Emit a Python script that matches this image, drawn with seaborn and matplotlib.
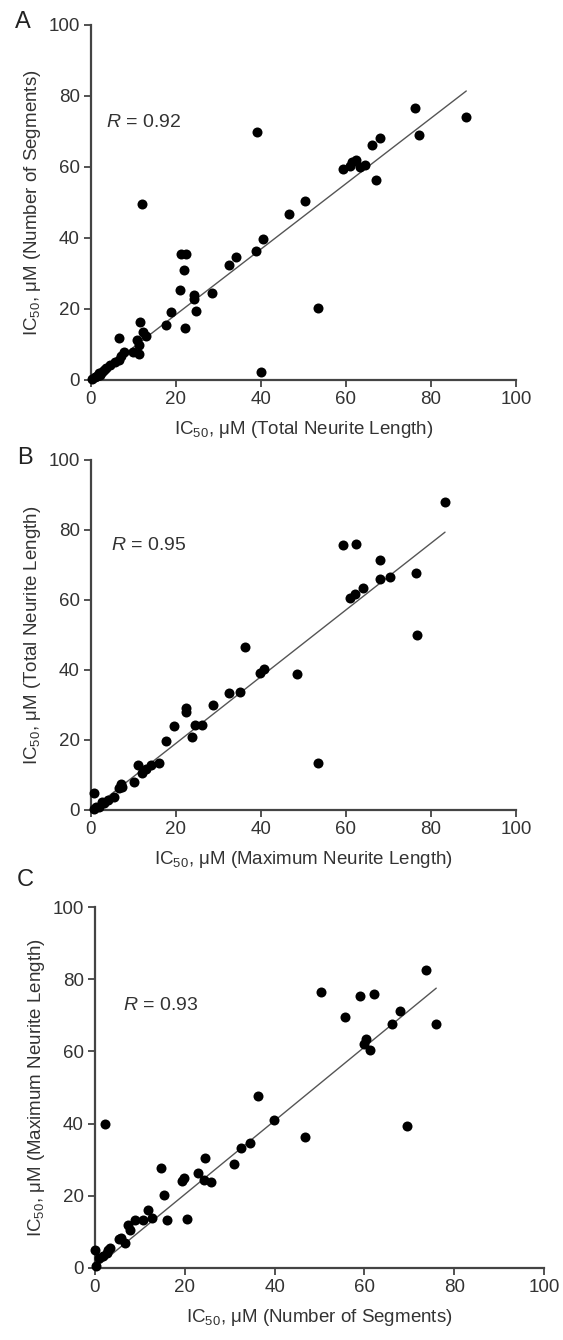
import numpy as np
import pandas as pd
import matplotlib
matplotlib.use('Agg')
import matplotlib.pyplot as plt
import seaborn as sns

# panel A: total neurite length (x) vs number of segments (y)
a_total = [39.0, 76.2, 88.3, 77.1, 66.0, 68.0, 61.5, 62.3, 63.2, 64.5, 61.0, 59.2, 67.0, 50.4, 46.7, 11.9,
           40.5, 38.8, 34.2, 32.5, 21.2, 22.4, 21.8, 21.0, 18.9, 28.4, 24.2, 24.3, 24.8, 22.1, 17.6, 11.5,
           12.3, 12.9, 10.8, 11.2, 9.9, 11.2, 6.7, 7.8, 7.0, 6.5, 5.7, 4.4, 3.6, 2.7, 1.9, 1.0, 0.3,
           53.4, 39.9, 3.0, 2.2, 1.4]
a_segments = [69.9, 76.5, 74.2, 69.0, 66.3, 68.3, 61.5, 62.0, 60.0, 60.5, 60.2, 59.5, 56.3, 50.5, 46.8, 49.5,
              39.6, 36.2, 34.7, 32.4, 35.4, 35.4, 31.0, 25.4, 19.2, 24.4, 23.9, 22.7, 19.5, 14.6, 15.4, 16.2,
              13.6, 12.4, 11.3, 9.9, 8.0, 7.3, 11.7, 8.0, 6.8, 5.6, 5.2, 4.2, 3.3, 2.3, 1.9, 0.9, 0.3,
              20.2, 2.2, 2.8, 1.5, 1.2]

# panel B: maximum neurite length (x) vs total neurite length (y)
b_maximum = [83.3, 59.4, 62.4, 68.1, 68.0, 70.3, 60.9, 62.2, 63.9, 76.5, 76.8, 36.3, 48.4, 40.8, 39.7,
             32.5, 35.0, 28.6, 22.3, 22.4, 19.5, 17.6, 24.4, 26.1, 23.8, 15.9, 14.2, 12.9, 12.1, 11.0,
             10.2, 7.0, 7.4, 6.5, 5.3, 4.0, 3.1, 1.9, 0.6, 0.8, 53.5, 2.5, 1.2]
b_total = [88.0, 75.6, 76.0, 71.4, 66.0, 66.7, 60.7, 61.7, 63.4, 67.7, 50.1, 46.5, 38.8, 40.2, 39.2,
           33.3, 33.7, 30.1, 29.1, 27.9, 23.9, 19.6, 24.4, 24.4, 21.0, 13.4, 12.9, 11.7, 10.5, 12.9,
           8.1, 7.5, 6.7, 6.2, 3.8, 2.9, 1.9, 1.0, 0.2, 4.8, 13.4, 2.2, 0.8]

# panel C: number of segments (x) vs maximum neurite length (y)
c_segments = [73.8, 50.4, 59.1, 62.1, 55.7, 67.9, 66.1, 76.0, 60.3, 59.9, 61.3, 36.2, 39.9, 2.2, 69.5,
              46.7, 34.6, 32.6, 31.0, 24.6, 22.9, 24.2, 25.8, 19.4, 19.8, 14.6, 15.4, 16.0, 20.4, 11.8,
              12.6, 10.6, 9.0, 7.4, 7.8, 5.8, 6.6, 5.4, 3.4, 2.6, 1.8, 1.0, 0.2, 0.0, 3.0]
c_maximum = [82.6, 76.4, 75.4, 75.9, 69.6, 71.2, 67.5, 67.5, 63.3, 62.0, 60.5, 47.7, 40.9, 40.0, 39.3,
             36.2, 34.6, 33.2, 28.9, 30.4, 26.2, 24.5, 23.8, 24.0, 25.0, 27.6, 20.1, 13.2, 13.6, 16.2,
             13.9, 13.4, 13.2, 12.0, 10.6, 8.3, 6.9, 7.9, 5.6, 4.2, 3.2, 2.8, 0.5, 5.1, 5.1]

# fitted lines through the origin, slopes
fit_slopes = [0.922, 0.953, 1.02]
r_values = ['0.92', '0.95', '0.93']
ticks = [0, 20, 40, 60, 80, 100]

sns.set_theme(style='ticks')
plt.rcParams['font.family'] = ['Liberation Sans', 'DejaVu Sans']
plt.rcParams['mathtext.fontset'] = 'custom'
plt.rcParams['mathtext.rm'] = 'Liberation Sans'
plt.rcParams['mathtext.it'] = 'Liberation Sans:italic'

fig = plt.figure(figsize=(5.63, 13.4), dpi=100)

panels = [
    ('A', a_total, a_segments, 'Total Neurite Length', 'Number of Segments',
     [91 / 563, 1 - 380 / 1340, 425 / 563, 355 / 1340], (3.6, 72.5), (15, 22)),
    ('B', b_maximum, b_total, 'Maximum Neurite Length', 'Total Neurite Length',
     [91 / 563, 1 - 810 / 1340, 425 / 563, 350 / 1340], (4.8, 75.5), (17, 458)),
    ('C', c_segments, c_maximum, 'Number of Segments', 'Maximum Neurite Length',
     [95 / 563, 1 - 1268 / 1340, 449 / 563, 361 / 1340], (6.2, 72.6), (17, 880)),
]

for i, (letter, xs, ys, xname, yname, rect, rpos, lpos) in enumerate(panels):
    ax = fig.add_axes(rect)
    df = pd.DataFrame({'x': xs, 'y': ys})
    fit = pd.DataFrame({'x': [0, max(xs)]})
    fit['y'] = fit['x'] * fit_slopes[i]
    sns.lineplot(data=fit, x='x', y='y', ax=ax, color='#555555', linewidth=1.0)
    sns.scatterplot(data=df, x='x', y='y', ax=ax, s=52, color='black', linewidth=0, clip_on=False, zorder=3)
    ax.set_xlim(0, 100)
    ax.set_ylim(0, 100)
    ax.set_xticks(ticks)
    ax.set_yticks(ticks)
    ax.tick_params(labelsize=13.5, length=5, width=1.3, color='#444444', labelcolor='#333333', pad=3)
    sns.despine(ax=ax)
    for side in ['left', 'bottom']:
        ax.spines[side].set_linewidth(1.6)
        ax.spines[side].set_color('#444444')
    ax.set_xlabel(r'IC$_{50}$, μM (' + xname + ')', fontsize=13.5, color='#333333', labelpad=8)
    ax.set_ylabel(r'IC$_{50}$, μM (' + yname + ')', fontsize=13.5, color='#333333', labelpad=4)
    ax.text(rpos[0], rpos[1], r'$R$ = ' + r_values[i], fontsize=14, color='#333333',
            ha='left', va='center')
    fig.text(lpos[0] / 563, 1 - lpos[1] / 1340, letter, fontsize=17, color='#222222',
             ha='left', va='center')

fig.savefig('out.png', dpi=100)
